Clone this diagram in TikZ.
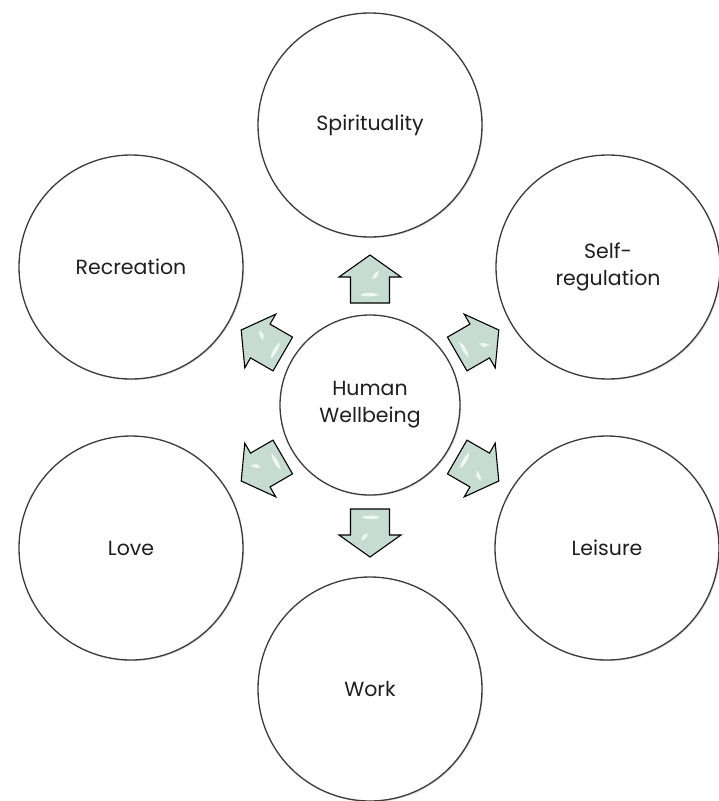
\documentclass[tikz,border=0pt]{standalone}
\usepackage{fontspec}
\setmainfont{Poppins}
\usetikzlibrary{shadows}
\definecolor{ring}{HTML}{3A3A3A}
\definecolor{txt}{HTML}{1E1E1E}
\definecolor{arrowfill}{HTML}{C6DCD3}
\begin{document}
\begin{tikzpicture}[x=1pt,y=-1pt,
  bubble/.style={circle,draw=ring,line width=1.3pt,fill=white,minimum size=224pt,inner sep=0pt,
    align=center,font=\fontsize{20.5}{27}\selectfont,text=txt,
    drop shadow={opacity=0.25,shadow xshift=1.2pt,shadow yshift=-1.2pt}},
  hub/.style={bubble,minimum size=180pt},
  arrowline/.style={draw=black,line width=1.1pt,fill=arrowfill,line join=miter},
  shine/.style={white,opacity=0.75},
  blockarrow/.pic={
    \path[arrowline] (-24pt,-19.5pt) -- (2pt,-19.5pt) -- (2pt,-31pt) -- (24pt,0pt)
      -- (2pt,31pt) -- (2pt,19.5pt) -- (-24pt,19.5pt) -- cycle;
    \fill[shine] (-16pt,-9pt) .. controls (-13pt,-3pt) and (-13pt,5pt) .. (-16pt,10pt)
      .. controls (-18pt,5pt) and (-18pt,-3pt) .. cycle;
    \fill[shine] (8pt,-9pt) -- (2pt,-7pt) -- (0pt,-2pt) .. controls (4pt,-3pt) and (7pt,-5pt) .. cycle;
  }]
\useasboundingbox (0,0) rectangle (719,801);

\node[hub] (hub) at (370,405) {Human\\Wellbeing};

\node[bubble] (spir) at (370,125) {Spirituality};
\node[bubble] (self) at (608,267) {Self-\\regulation};
\node[bubble] (leis) at (607,548) {Leisure};
\node[bubble] (work) at (370,689) {Work};
\node[bubble] (love) at (131,548) {Love};
\node[bubble] (recr) at (131,267) {Recreation};

\pic[rotate=90]   (a1) at (370,279) {blockarrow};
\pic[rotate=30]   (a2) at (478,342) {blockarrow};
\pic[rotate=-30]  (a3) at (478,469) {blockarrow};
\pic[rotate=-90]  (a4) at (370,533) {blockarrow};
\pic[rotate=-150] (a5) at (262,469) {blockarrow};
\pic[rotate=150]  (a6) at (262,342) {blockarrow};
\end{tikzpicture}
\end{document}
